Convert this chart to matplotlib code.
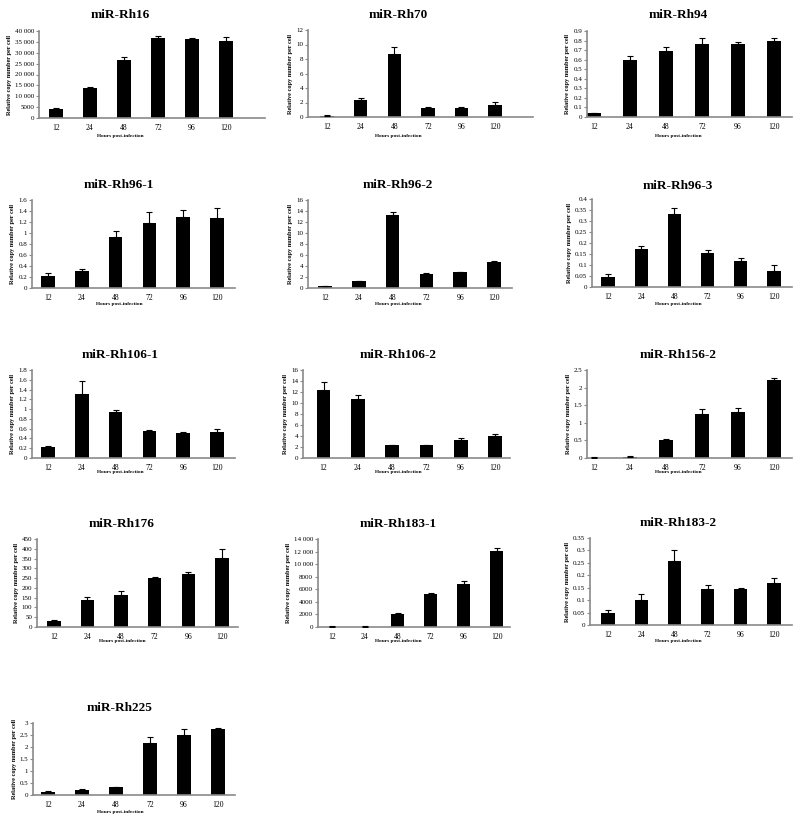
import matplotlib
matplotlib.use('Agg')
import matplotlib.pyplot as plt
import numpy as np

plt.rcParams['font.family'] = ['Liberation Serif', 'DejaVu Serif']

hours = ['12', '24', '48', '72', '96', '120']

titles = ['miR-Rh16', 'miR-Rh70', 'miR-Rh94',
          'miR-Rh96-1', 'miR-Rh96-2', 'miR-Rh96-3',
          'miR-Rh106-1', 'miR-Rh106-2', 'miR-Rh156-2',
          'miR-Rh176', 'miR-Rh183-1', 'miR-Rh183-2',
          'miR-Rh225']

rh16 = [4200, 13800, 26700, 36800, 36100, 35300]
rh16_err = [400, 400, 1300, 700, 600, 1800]
rh70 = [0.2, 2.3, 8.7, 1.2, 1.2, 1.7]
rh70_err = [0.1, 0.35, 1.0, 0.2, 0.2, 0.35]
rh94 = [0.04, 0.60, 0.69, 0.76, 0.76, 0.80]
rh94_err = [0.005, 0.04, 0.04, 0.07, 0.03, 0.03]
rh96_1 = [0.22, 0.31, 0.93, 1.19, 1.29, 1.28]
rh96_1_err = [0.05, 0.04, 0.10, 0.19, 0.12, 0.18]
rh96_2 = [0.4, 1.3, 13.2, 2.6, 2.9, 4.7]
rh96_2_err = [0.05, 0.05, 0.6, 0.1, 0.1, 0.3]
rh96_3 = [0.045, 0.175, 0.33, 0.155, 0.12, 0.075]
rh96_3_err = [0.015, 0.012, 0.03, 0.012, 0.01, 0.025]
rh106_1 = [0.22, 1.31, 0.94, 0.55, 0.51, 0.54]
rh106_1_err = [0.02, 0.26, 0.05, 0.02, 0.02, 0.06]
rh106_2 = [12.3, 10.7, 2.3, 2.3, 3.2, 4.0]
rh106_2_err = [1.5, 0.8, 0.1, 0.1, 0.4, 0.4]
rh156_2 = [0.01, 0.04, 0.52, 1.26, 1.30, 2.23]
rh156_2_err = [0.01, 0.01, 0.02, 0.12, 0.12, 0.04]
rh176 = [30, 137, 165, 250, 270, 352]
rh176_err = [5, 15, 17, 4, 13, 45]
rh183_1 = [60, 60, 2100, 5200, 6900, 12100]
rh183_1_err = [30, 30, 50, 250, 400, 500]
rh183_2 = [0.048, 0.102, 0.258, 0.144, 0.144, 0.168]
rh183_2_err = [0.013, 0.022, 0.043, 0.016, 0.004, 0.022]
rh225 = [0.13, 0.22, 0.33, 2.18, 2.50, 2.75]
rh225_err = [0.04, 0.03, 0.02, 0.22, 0.27, 0.05]

values = [rh16, rh70, rh94, rh96_1, rh96_2, rh96_3, rh106_1, rh106_2,
          rh156_2, rh176, rh183_1, rh183_2, rh225]
errors = [rh16_err, rh70_err, rh94_err, rh96_1_err, rh96_2_err, rh96_3_err,
          rh106_1_err, rh106_2_err, rh156_2_err, rh176_err, rh183_1_err,
          rh183_2_err, rh225_err]
ymax = [40000, 12, 0.9, 1.6, 16, 0.4, 1.8, 16, 2.5, 450, 14000, 0.35, 3]
ystep = [5000, 2, 0.1, 0.2, 2, 0.05, 0.2, 2, 0.5, 50, 2000, 0.05, 0.5]

# layout in pixels: axis left, axis right, axis top, axis bottom, xlim left, xlim right,
# title/xlabel centre x, title y, xlabel y
layout = [
    (39, 265, 31, 118, -0.5, 6.15, 120, 15, 136),
    (308, 533, 30, 117, -0.57, 6.13, 398, 15, 136),
    (587, 792, 31, 117, -0.19, 5.5, 678, 15, 136),
    (32, 235, 200, 288, -0.47, 5.53, 119, 185, 304),
    (308, 512, 200, 288, -0.5, 5.53, 398, 185, 304),
    (592, 792, 199, 287, -0.48, 5.54, 678, 186, 304),
    (32, 235, 370, 458, -0.47, 5.53, 120, 355, 472),
    (303, 510, 370, 458, -0.6, 5.44, 398, 355, 472),
    (587, 792, 370, 458, -0.19, 5.5, 678, 355, 472),
    (37, 238, 539, 627, -0.5, 5.48, 122, 524, 641),
    (318, 510, 539, 627, -0.42, 5.4, 398, 524, 641),
    (590, 792, 538, 625, -0.54, 5.54, 678, 523, 641),
    (33, 235, 723, 795, -0.44, 5.5, 120, 708, 812),
]

W, H = 800, 827
fig = plt.figure(figsize=(8, 8.27), dpi=100)


def fmt(v):
    if v >= 10000:
        return f"{int(round(v)):,}".replace(',', ' ')
    if v >= 1000:
        return str(int(round(v)))
    return f"{round(v, 4):g}"


axcol = '#8a8a8a'
for i in range(len(titles)):
    l, r, t, b, xl, xr, cx, ty, xly = layout[i]
    ax = fig.add_axes([l / W, 1 - b / H, (r - l) / W, (b - t) / H])
    x = np.arange(len(hours))
    ax.bar(x, values[i], width=0.4, color='black', zorder=2)
    ax.errorbar(x, values[i], yerr=[np.zeros(len(hours)), errors[i]], fmt='none',
                ecolor='black', elinewidth=0.8, capsize=2, capthick=0.8, zorder=3)
    ax.set_xlim(xl, xr)
    ax.set_ylim(0, ymax[i])
    yt = np.arange(0, ymax[i] + ystep[i] / 2, ystep[i])
    ax.set_yticks(yt)
    ax.set_yticklabels([fmt(v) for v in yt], fontsize=5)
    ax.set_xticks(x)
    ax.set_xticklabels(hours, fontsize=5.5)
    ax.tick_params(axis='x', length=0, pad=4)
    ax.tick_params(axis='y', length=2, width=0.8, color=axcol, pad=1.5)
    for s in ['top', 'right']:
        ax.spines[s].set_visible(False)
    for s in ['left', 'bottom']:
        ax.spines[s].set_color(axcol)
        ax.spines[s].set_linewidth(1.2)
    ax.set_ylabel('Relative copy number per cell', fontsize=4.5, fontweight='bold', labelpad=2)
    fig.text(cx / W, 1 - ty / H, titles[i], ha='center', va='center',
             fontsize=9.5, fontweight='bold')
    fig.text(cx / W, 1 - xly / H, 'Hours post-infection', ha='center', va='center',
             fontsize=3.8, fontweight='bold')

fig.savefig('out.png', dpi=100, facecolor='white')
